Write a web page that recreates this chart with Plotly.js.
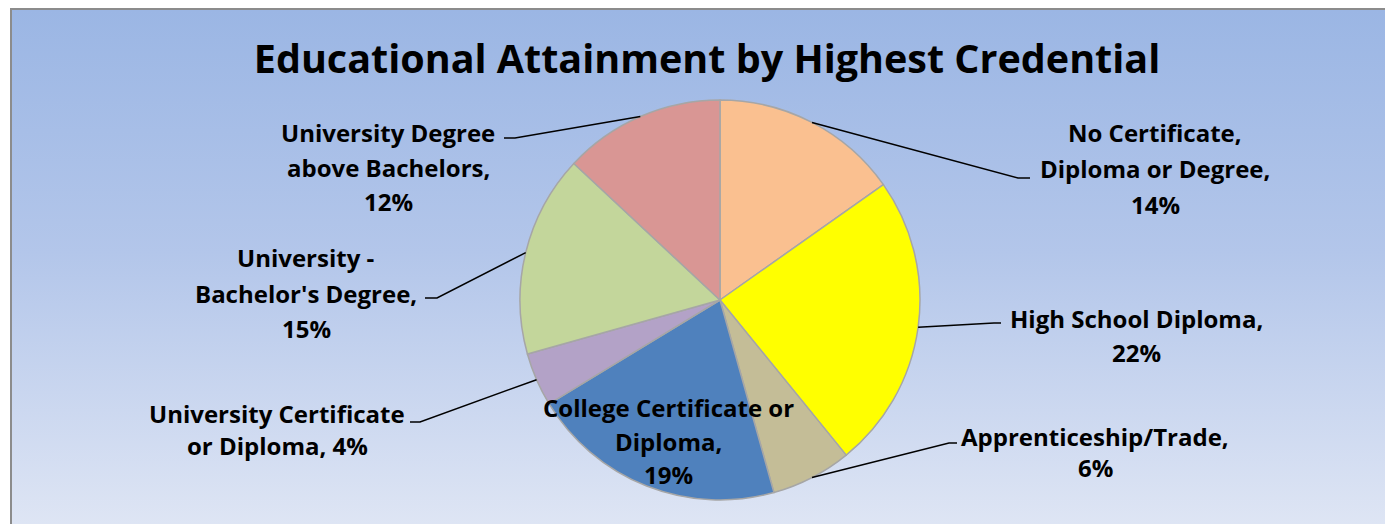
<!DOCTYPE html>
<html>
<head>
<meta charset="utf-8">
<script src="https://cdn.plot.ly/plotly-3.0.1.min.js"></script>
<style>
  html, body { margin: 0; padding: 0; width: 1385px; height: 524px; overflow: hidden; background: #ffffff; }
  #bg { position: absolute; left: 10px; top: 8px; width: 1400px; height: 540px;
        border-left: 2px solid #8c8c8c; border-top: 2px solid #8c8c8c;
        background: linear-gradient(to bottom, #9bb6e4 0%, #b3c6ea 45%, #e2e8f5 100%); }
  #chart { position: absolute; left: 0; top: 0; width: 1385px; height: 524px; }
</style>
</head>
<body>
<div id="bg"></div>
<div id="chart"></div>
<script>
// ---- data ----
const categories = [
  "No Certificate, Diploma or Degree",
  "High School Diploma",
  "Apprenticeship/Trade",
  "College Certificate or Diploma",
  "University Certificate or Diploma",
  "University - Bachelor's Degree",
  "University Degree above Bachelors"
];
const values = [14, 22, 6, 19, 4, 15, 12];
// label text as shown (line breaks), value appended as percent
const labelLines = [
  ["No Certificate,", "Diploma or Degree,", "{v}%"],
  ["High School Diploma,", "{v}%"],
  ["Apprenticeship/Trade,", "{v}%"],
  ["College Certificate or", "Diploma,", "{v}%"],
  ["University Certificate", "or Diploma, {v}%"],
  ["University -", "Bachelor's Degree,", "{v}%"],
  ["University Degree", "above Bachelors,", "{v}%"]
];
const colors = ["#FAC090", "#FFFF00", "#C4BD97", "#4F81BD", "#B3A2C7", "#C3D69B", "#D99694"];

// ---- layout / style ----
const W = 1385, H = 524;
const CX = 720, CY = 300, R = 200;
const FONT = '"Open Sans", "Noto Sans", sans-serif';
// label block positions (page px): center x, line y's
const labelPos = [
  {x: 1155, y: [133, 169, 205]},
  {x: 1136, y: [318, 352]},
  {x: 1095, y: [436, 467]},
  {x: 668,  y: [407, 441, 474]},
  {x: 277,  y: [413, 445]},
  {x: 306,  y: [257, 293, 328]},
  {x: 388,  y: [132, 167, 201]}
];
// leader line elbow and end points (page px); null = no leader
const leaders = [
  {ex: 1018, ey: 178, tx: 1030, ty: 178},
  {ex: 994,  ey: 323, tx: 1001, ty: 323},
  {ex: 949,  ey: 443, tx: 957,  ty: 443},
  null,
  {ex: 420,  ey: 422, tx: 410,  ty: 422},
  {ex: 437,  ey: 298, tx: 425,  ty: 298},
  {ex: 515,  ey: 138, tx: 504,  ty: 138}
];

const px = x => x / W;
const py = y => 1 - y / H;

const total = values.reduce((a, b) => a + b, 0);
let cum = 0;
const annotations = [];
const shapes = [];
values.forEach((v, i) => {
  const mid = (cum + v / 2) / total * 2 * Math.PI;
  cum += v;
  const lp = labelPos[i];
  labelLines[i].forEach((ln, k) => {
    annotations.push({
      xref: 'paper', yref: 'paper', x: px(lp.x), y: py(lp.y[k]),
      xanchor: 'center', yanchor: 'middle', showarrow: false,
      text: ln.replace('{v}', v),
      font: {family: FONT, size: 24, color: '#000000', weight: 'bold'}
    });
  });
  const L = leaders[i];
  if (L) {
    const sx = CX + R * Math.sin(mid), sy = CY - R * Math.cos(mid);
    shapes.push({
      type: 'path', xref: 'paper', yref: 'paper',
      path: `M ${px(sx)},${py(sy)} L ${px(L.ex)},${py(L.ey)} L ${px(L.tx)},${py(L.ty)}`,
      line: {color: '#000000', width: 1.5}
    });
  }
});

const trace = {
  type: 'pie',
  labels: categories,
  values: values,
  sort: false,
  direction: 'clockwise',
  rotation: 0,
  textinfo: 'none',
  hoverinfo: 'label+value',
  marker: {colors: colors, line: {color: '#A6A6A6', width: 1.5}},
  domain: {x: [px(CX - R), px(CX + R)], y: [py(CY + R), py(CY - R)]},
  showlegend: false
};

const layout = {
  width: W, height: H,
  margin: {l: 0, r: 0, t: 0, b: 0},
  paper_bgcolor: 'rgba(0,0,0,0)',
  plot_bgcolor: 'rgba(0,0,0,0)',
  title: {
    text: 'Educational Attainment by Highest Credential',
    x: 707 / W, xanchor: 'center', xref: 'paper',
    y: 1 - 59 / H, yanchor: 'middle', yref: 'paper',
    font: {family: FONT, size: 39.5, color: '#000000', weight: 'bold'}
  },
  annotations: annotations,
  shapes: shapes,
  showlegend: false
};

Plotly.newPlot('chart', [trace], layout, {displayModeBar: false, staticPlot: true});
</script>
</body>
</html>
